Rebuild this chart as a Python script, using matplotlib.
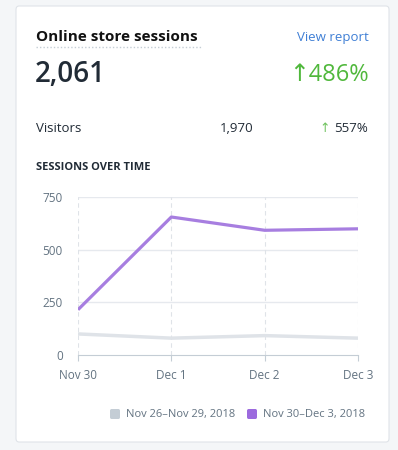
import matplotlib.pyplot as plt
from matplotlib.patches import FancyBboxPatch

# Sessions per day, current vs previous period
days = ["Nov 30", "Dec 1", "Dec 2", "Dec 3"]
current = [215, 655, 592, 599]
previous = [100, 80, 92, 80]
y_ticks = [0, 250, 500, 750]
legend_labels = ["Nov 26\u2013Nov 29, 2018", "Nov 30\u2013Dec 3, 2018"]

W, H = 398, 450
FONT = ["Open Sans", "DejaVu Sans"]
plt.rcParams["font.family"] = FONT

fig = plt.figure(figsize=(W / 100, H / 100), dpi=100)
fig.patch.set_facecolor("#f4f6f8")


def fx(px):
    return px / W


def fy(py):
    return 1 - py / H


# card behind everything
card = FancyBboxPatch((fx(16), fy(442)), fx(373), 436 / H,
                      boxstyle="round,pad=0,rounding_size=0.008",
                      transform=fig.transFigure, facecolor="white",
                      edgecolor="#dfe3e8", linewidth=0.8, zorder=-5)
fig.patches.append(card)

# header texts
fig.text(fx(36), fy(37), "Online store sessions", fontsize=11, fontweight="bold",
         color="#111111", va="center")
fig.lines.append(plt.Line2D([fx(36), fx(202)], [fy(47), fy(47)], transform=fig.transFigure,
                            color="#c4cdd5", linestyle=(0, (1, 1.5)), linewidth=1))
fig.text(fx(369), fy(38), "View report", fontsize=9.5, color="#3f7fd5", ha="right", va="center")
fig.text(fx(35), fy(75), "2,061", fontsize=20, fontweight="semibold", color="#212b36", va="center")
fig.text(fx(369), fy(75), "\u2191486%", fontsize=17, color="#50b83c", ha="right", va="center")

fig.text(fx(36), fy(128), "Visitors", fontsize=9.5, color="#212b36", va="center")
fig.text(fx(253), fy(128), "1,970", fontsize=9.5, color="#212b36", ha="right", va="center")
fig.text(fx(368), fy(128), "557%", fontsize=9.5, color="#212b36", ha="right", va="center")
fig.text(fx(319), fy(128), "\u2191", fontsize=9, color="#6fc25e", ha="left", va="center")
fig.text(fx(36), fy(167), "SESSIONS OVER TIME", fontsize=8, fontweight="bold",
         color="#212b36", va="center")

# chart
ax = fig.add_axes([fx(78), fy(355), fx(280), (355 - 197) / H])
ax.set_facecolor("none")
x = list(range(len(days)))
ax.plot(x, previous, color="#dfe3e8", linewidth=2.5, solid_capstyle="butt", zorder=3)
ax.plot(x, current, color="#a77ee0", linewidth=2.3, solid_capstyle="butt", zorder=4)

ax.set_xlim(0, len(days) - 1)
ax.set_ylim(0, 750)
ax.set_yticks(y_ticks)
ax.set_xticks(x)
ax.set_xticklabels(days)
for t in y_ticks[1:]:
    ax.axhline(t, color="#e6e9ee", linewidth=1, zorder=1)
for xi in x:
    ax.axvline(xi, color="#dfe3e8", linewidth=0.8, linestyle=(0, (4, 3)), zorder=1)
for s in ["top", "right", "left"]:
    ax.spines[s].set_visible(False)
ax.spines["bottom"].set_color("#c4cdd5")
ax.spines["bottom"].set_zorder(5)
ax.tick_params(axis="y", length=0, pad=11, labelsize=8.5, labelcolor="#637381")
ax.tick_params(axis="x", length=4, color="#c4cdd5", pad=6, labelsize=8.5, labelcolor="#637381")

# legend
for px, col, lab in [(110, "#c4cdd5", legend_labels[0]), (247, "#9c6ade", legend_labels[1])]:
    sq = FancyBboxPatch((fx(px), fy(419)), fx(10), 10 / H,
                        boxstyle="round,pad=0,rounding_size=0.004",
                        transform=fig.transFigure, facecolor=col, edgecolor="none")
    fig.patches.append(sq)
    fig.text(fx(px + 16), fy(414), lab, fontsize=8, color="#637381", va="center")

fig.savefig("out.png", dpi=100, facecolor=fig.get_facecolor())
